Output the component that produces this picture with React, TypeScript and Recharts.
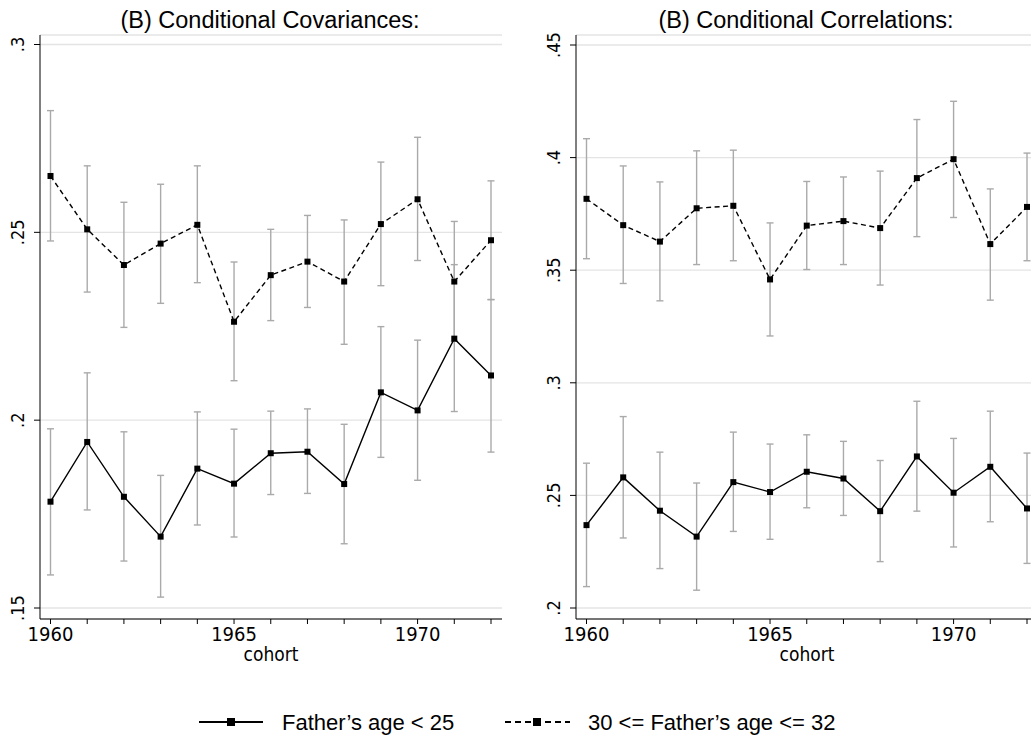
import React from 'react';
import { LineChart, Line, XAxis, YAxis, CartesianGrid, ErrorBar } from 'recharts';

const years = [1960, 1961, 1962, 1963, 1964, 1965, 1966, 1967, 1968, 1969, 1970, 1971, 1972];
const xTickLabels = [1960, 1965, 1970];

const covYoung = [0.1783, 0.1942, 0.1796, 0.1690, 0.1871, 0.1831, 0.1912, 0.1916, 0.1830, 0.2074, 0.2026, 0.2217, 0.2119];
const covYoungLo = [0.1588, 0.1761, 0.1625, 0.1529, 0.1721, 0.1689, 0.1802, 0.1805, 0.1671, 0.1901, 0.1840, 0.2023, 0.1915];
const covYoungHi = [0.1977, 0.2126, 0.1969, 0.1853, 0.2022, 0.1976, 0.2024, 0.2030, 0.1989, 0.2249, 0.2213, 0.2414, 0.2321];

const covOld = [0.2650, 0.2508, 0.2413, 0.2470, 0.2520, 0.2262, 0.2386, 0.2422, 0.2369, 0.2522, 0.2588, 0.2369, 0.2479];
const covOldLo = [0.2477, 0.2341, 0.2247, 0.2311, 0.2366, 0.2105, 0.2265, 0.2300, 0.2202, 0.2358, 0.2425, 0.2210, 0.2321];
const covOldHi = [0.2824, 0.2677, 0.2580, 0.2628, 0.2677, 0.2421, 0.2508, 0.2545, 0.2533, 0.2687, 0.2753, 0.2529, 0.2637];

const corrYoung = [0.2368, 0.2580, 0.2432, 0.2317, 0.2559, 0.2515, 0.2605, 0.2575, 0.2430, 0.2673, 0.2512, 0.2627, 0.2442];
const corrYoungLo = [0.2095, 0.2311, 0.2175, 0.2079, 0.2340, 0.2305, 0.2445, 0.2411, 0.2206, 0.2430, 0.2271, 0.2383, 0.2198];
const corrYoungHi = [0.2643, 0.2850, 0.2692, 0.2555, 0.2781, 0.2728, 0.2769, 0.2740, 0.2655, 0.2918, 0.2753, 0.2874, 0.2688];

const corrOld = [0.3817, 0.3700, 0.3627, 0.3775, 0.3786, 0.3459, 0.3698, 0.3718, 0.3687, 0.3909, 0.3993, 0.3616, 0.3781];
const corrOldLo = [0.3551, 0.3441, 0.3364, 0.3525, 0.3542, 0.3208, 0.3503, 0.3525, 0.3434, 0.3649, 0.3734, 0.3367, 0.3542];
const corrOldHi = [0.4084, 0.3963, 0.3892, 0.4030, 0.4033, 0.3710, 0.3894, 0.3914, 0.3940, 0.4169, 0.4250, 0.3861, 0.4020];

const covTicks = [0.15, 0.2, 0.25, 0.3];
const covTickLabels = ['.15', '.2', '.25', '.3'];
const corrTicks = [0.2, 0.25, 0.3, 0.35, 0.4, 0.45];
const corrTickLabels = ['.2', '.25', '.3', '.35', '.4', '.45'];

const titles = ['(B) Conditional Covariances:', '(B) Conditional Correlations:'];
const seriesNames = ['Father\u2019s age < 25', '30 <= Father\u2019s age <= 32'];
const xAxisTitle = 'cohort';

const buildRows = (young: number[], yLo: number[], yHi: number[], old: number[], oLo: number[], oHi: number[]) =>
  years.map((year, i) => ({
    year,
    young: young[i],
    youngErr: [young[i] - yLo[i], yHi[i] - young[i]],
    old: old[i],
    oldErr: [old[i] - oLo[i], oHi[i] - old[i]],
  }));

const covRows = buildRows(covYoung, covYoungLo, covYoungHi, covOld, covOldLo, covOldHi);
const corrRows = buildRows(corrYoung, corrYoungLo, corrYoungHi, corrOld, corrOldLo, corrOldHi);

const NARROW = "'Liberation Sans Narrow', 'Arial Narrow', 'DejaVu Sans Condensed', sans-serif";
const SANS = "'Liberation Sans', Arial, Helvetica, sans-serif";

const SquareDot = (props: any) => {
  const { cx, cy, index } = props;
  if (cx == null || cy == null) return <g key={`d${index}`} />;
  return <rect key={`d${index}`} x={cx - 3} y={cy - 3} width={6} height={6} fill="#000" />;
};

const XTick = (props: any) => {
  const { x, y, payload } = props;
  if (!xTickLabels.includes(payload.value)) return <g />;
  return (
    <text x={x} y={y} dy={15} textAnchor="middle" fill="#000" fontSize={20} fontFamily={NARROW}>
      {payload.value}
    </text>
  );
};

const makeYTick = (ticks: number[], labels: string[]) => (props: any) => {
  const { x, y, payload } = props;
  const idx = ticks.findIndex((t) => Math.abs(t - payload.value) < 1e-9);
  const label = idx >= 0 ? labels[idx] : String(payload.value);
  return (
    <g transform={`translate(${x},${y})`}>
      <text transform="rotate(-90)" textAnchor="middle" fill="#000" fontSize={18} fontFamily={NARROW}>
        {label}
      </text>
    </g>
  );
};

type PanelProps = {
  rows: any[];
  domain: [number, number];
  ticks: number[];
  labels: string[];
  padTop: number;
  padBottom: number;
};

const Panel = ({ rows, domain, ticks, labels, padTop, padBottom }: PanelProps) => (
  <LineChart width={520} height={680} data={rows} margin={{ top: 35, right: 18, bottom: 0, left: 0 }}>
    <CartesianGrid horizontal vertical={false} stroke="#e4e4e4" strokeWidth={1.3} />
    <XAxis
      dataKey="year"
      type="number"
      domain={[1960, 1972]}
      ticks={years}
      interval={0}
      padding={{ left: 10.5, right: 11 }}
      height={61}
      tickSize={5}
      tickMargin={2}
      axisLine={{ stroke: '#000', strokeWidth: 1 }}
      tickLine={{ stroke: '#000', strokeWidth: 1 }}
      tick={<XTick />}
    />
    <YAxis
      type="number"
      domain={domain}
      ticks={ticks}
      interval={0}
      width={40}
      padding={{ top: padTop, bottom: padBottom }}
      tickSize={6}
      tickMargin={10}
      axisLine={{ stroke: '#000', strokeWidth: 1 }}
      tickLine={{ stroke: '#000', strokeWidth: 1 }}
      tick={makeYTick(ticks, labels)}
    />
    <Line dataKey="young" stroke="none" dot={false} activeDot={false} isAnimationActive={false} legendType="none">
      <ErrorBar dataKey="youngErr" direction="y" width={3.5} stroke="#aaaaaa" strokeWidth={1.4} />
    </Line>
    <Line dataKey="old" stroke="none" dot={false} activeDot={false} isAnimationActive={false} legendType="none">
      <ErrorBar dataKey="oldErr" direction="y" width={3.5} stroke="#aaaaaa" strokeWidth={1.4} />
    </Line>
    <Line
      dataKey="young"
      stroke="#000"
      strokeWidth={1.4}
      type="linear"
      dot={SquareDot}
      activeDot={false}
      isAnimationActive={false}
    />
    <Line
      dataKey="old"
      stroke="#000"
      strokeWidth={1.4}
      strokeDasharray="5 3.5"
      type="linear"
      dot={SquareDot}
      activeDot={false}
      isAnimationActive={false}
    />
  </LineChart>
);

export default function App() {
  return (
    <div
      style={{
        position: 'fixed',
        left: 0,
        top: 0,
        width: 1031,
        height: 738,
        overflow: 'hidden',
        background: '#fff',
      }}
    >
      <div style={{ position: 'absolute', left: 0, top: 0 }}>
        <Panel rows={covRows} domain={[0.15, 0.3]} ticks={covTicks} labels={covTickLabels} padTop={9.5} padBottom={11} />
      </div>
      <div style={{ position: 'absolute', left: 536, top: 0 }}>
        <Panel rows={corrRows} domain={[0.2, 0.45]} ticks={corrTicks} labels={corrTickLabels} padTop={10} padBottom={11} />
      </div>
      <svg width={1031} height={738} style={{ position: 'absolute', left: 0, top: 0, pointerEvents: 'none' }}>
        <text x={270} y={28} textAnchor="middle" fontSize={23.5} fontFamily={SANS} fill="#000">
          {titles[0]}
        </text>
        <text x={806} y={28} textAnchor="middle" fontSize={23.5} fontFamily={SANS} fill="#000">
          {titles[1]}
        </text>
        <text x={271} y={661} textAnchor="middle" fontSize={19} fontFamily={NARROW} fill="#000">
          {xAxisTitle}
        </text>
        <text x={807} y={661} textAnchor="middle" fontSize={19} fontFamily={NARROW} fill="#000">
          {xAxisTitle}
        </text>
        <line x1={199} y1={722} x2={263} y2={722} stroke="#000" strokeWidth={2} />
        <rect x={227} y={718} width={8} height={8} fill="#000" />
        <text x={282} y={729.5} fontSize={22} fontFamily={SANS} fill="#000">
          {seriesNames[0]}
        </text>
        <line x1={505} y1={722} x2={570} y2={722} stroke="#000" strokeWidth={2} strokeDasharray="6 4" />
        <rect x={533} y={718} width={8} height={8} fill="#000" />
        <text x={588} y={729.5} fontSize={22} fontFamily={SANS} fill="#000">
          {seriesNames[1]}
        </text>
      </svg>
    </div>
  );
}
